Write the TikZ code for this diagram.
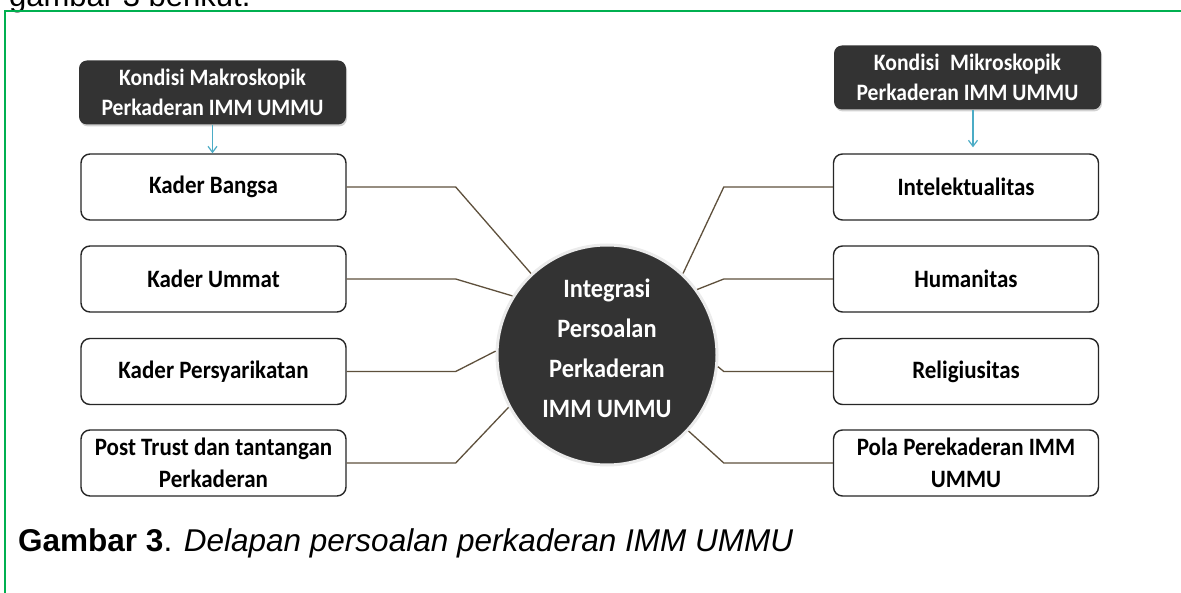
\documentclass[tikz,border=0pt]{standalone}
\usepackage{fontspec}
\setmainfont{Liberation Sans}
\newfontfamily\cfont[FakeStretch=0.92]{Carlito}
\usetikzlibrary{shadows,arrows.meta}
\definecolor{frameg}{HTML}{00B050}
\definecolor{darkfill}{HTML}{333333}
\definecolor{conncol}{HTML}{5E503C}
\definecolor{arrblue}{HTML}{4BACC6}
\begin{document}
\begin{tikzpicture}[x=1pt,y=-1pt,
 itembox/.style={draw=black!85, line width=1.4pt, rounded corners=9pt, fill=white,
   minimum width=265pt, minimum height=66pt, inner sep=0pt, align=center,
   font=\cfont\bfseries\fontsize{25}{32}\selectfont, text=black},
 headbox/.style={fill=darkfill, rounded corners=8pt, minimum width=267pt, minimum height=64pt,
   inner sep=0pt, align=center, text=white, font=\cfont\bfseries\fontsize{23.5}{30}\selectfont,
   drop shadow={shadow xshift=1pt, shadow yshift=-2pt, opacity=0.35}},
 hub/.style={circle, fill=darkfill, draw=black!8, line width=3pt, minimum size=220pt, inner sep=0pt,
   text=white, align=center, font=\cfont\bfseries\fontsize{26.5}{40}\selectfont},
 link/.style={draw=conncol, line width=1.3pt},
 downarrow/.style={draw=arrblue, line width=1.2pt, -{Straight Barb[length=6pt,width=9pt]}}
]
\useasboundingbox (0,0) rectangle (1181,593);
\clip (0,0) rectangle (1181,593);
\fill[white] (0,0) rectangle (1181,593);

% text cut at the top (as in the reference) and caption
\node[anchor=base west, inner sep=0pt, font=\fontsize{31}{32}\selectfont] (toptext) at (9,7) {gambar 3 berikut.};
\node[anchor=base west, inner sep=0pt, font=\fontsize{31.5}{32}\selectfont] (caption) at (18,551)
  {\textbf{Gambar 3}. \textit{Delapan persoalan perkaderan IMM UMMU}};

% green frame
\draw[frameg, line width=2pt] (5,593) -- (5,11) -- (1181,11);

% header boxes
\node[headbox] (hl) at (212.5,92.5) {Kondisi Makroskopik\\Perkaderan IMM UMMU};
\node[headbox] (hr) at (967.5,77.5) {Kondisi\hspace{0.45em}Mikroskopik\\Perkaderan IMM UMMU};

% item boxes
\node[itembox] (kb) at (213.5,187) {Kader Bangsa};
\node[itembox] (ku) at (213.5,279) {Kader Ummat};
\node[itembox] (kp) at (213.5,371.5) {Kader Persyarikatan};
\node[itembox] (pt) at (213.5,463) {Post Trust dan tantangan\\Perkaderan};
\node[itembox] (in) at (966,187) {Intelektualitas};
\node[itembox] (hu) at (966,279) {Humanitas};
\node[itembox] (re) at (966,371.5) {Religiusitas};
\node[itembox] (po) at (966,463) {Pola Perekaderan IMM\\UMMU};

% hub
\node[hub] (c) at (607,355) {Integrasi\\Persoalan\\Perkaderan\\IMM UMMU\\[-26pt]\mbox{}};

% arrows
\draw[downarrow] (hl.south) -- (hl.south |- kb.north);
\draw[downarrow] ([xshift=5.5pt]hr.south) -- ([xshift=5.5pt,yshift=6pt]hr.south |- in.north);

% connectors
\draw[link] (kb.east) -- ++(109,0) -- (c.133);
\draw[link] (ku.east) -- ++(109,0) -- (c.148);
\draw[link] (kp.east) -- ++(109,0) -- (c.178);
\draw[link] (pt.east) -- ++(109,0) -- (c.208);
\draw[link] (in.west) -- ++(-109,0) -- (c.47);
\draw[link] (hu.west) -- ++(-109,0) -- (c.36);
\draw[link] (re.west) -- ++(-109,0) -- (c.354);
\draw[link] (po.west) -- ++(-109,0) -- (c.317);
\end{tikzpicture}
\end{document}
